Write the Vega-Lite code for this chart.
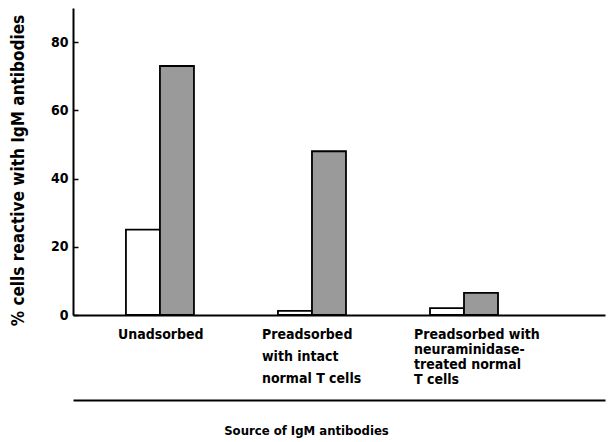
{
  "$schema": "https://vega.github.io/schema/vega-lite/v6.json",
  "width": 532,
  "height": 307,
  "autosize": {"type": "none"},
  "padding": {"left": 73, "top": 8, "right": 5, "bottom": 127},
  "background": "white",
  "config": {
    "view": {"stroke": null},
    "font": "DejaVu Sans Condensed, DejaVu Sans",
    "axis": {"grid": false, "domainColor": "black", "tickColor": "black", "labelColor": "black", "titleColor": "black", "labelFont": "DejaVu Sans Condensed, DejaVu Sans", "titleFont": "DejaVu Sans Condensed, DejaVu Sans"}
  },
  "data": {
    "values": [
      {"group": "Unadsorbed", "series": "Series 1", "value": 25},
      {"group": "Unadsorbed", "series": "Series 2", "value": 73},
      {"group": "Preadsorbed with intact normal T cells", "series": "Series 1", "value": 1.2},
      {"group": "Preadsorbed with intact normal T cells", "series": "Series 2", "value": 48},
      {"group": "Preadsorbed with neuraminidase-treated normal T cells", "series": "Series 1", "value": 2},
      {"group": "Preadsorbed with neuraminidase-treated normal T cells", "series": "Series 2", "value": 6.5}
    ]
  },
  "layer": [
    {
      "mark": {"type": "bar", "stroke": "black", "strokeWidth": 1.8},
      "encoding": {
        "x": {
          "field": "group",
          "type": "nominal",
          "sort": null,
          "scale": {"paddingInner": 0.5526, "paddingOuter": 0.526, "align": 0.331},
          "axis": {
            "title": null,
            "ticks": false,
            "domainWidth": 2,
            "labelAngle": 0,
            "labelAlign": "left",
            "labelBaseline": "top",
            "labelPadding": 12,
            "labelFontSize": 14,
            "labelFontWeight": "bold",
            "labelLimit": 0,
            "labelLineHeight": {"expr": "indexof(datum.value, 'intact') >= 0 ? 22 : 15"},
            "labelOffset": {"condition": {"test": "datum.value == 'Unadsorbed'", "value": -42}, "value": -50},
            "labelExpr": "datum.value == 'Unadsorbed' ? 'Unadsorbed' : (indexof(datum.value, 'intact') >= 0 ? ['Preadsorbed', 'with intact', 'normal T cells'] : ['Preadsorbed with', 'neuraminidase-', 'treated normal', 'T cells'])"
          }
        },
        "xOffset": {"field": "series", "type": "nominal", "scale": {"paddingInner": 0, "paddingOuter": 0}},
        "y": {
          "field": "value",
          "type": "quantitative",
          "scale": {"domain": [0, 90], "nice": false},
          "axis": {
            "title": "% cells reactive with IgM antibodies",
            "values": [0, 20, 40, 60, 80],
            "domainWidth": 2,
            "tickSize": -5,
            "tickWidth": 1.5,
            "labelPadding": 10,
            "labelFontSize": 14,
            "labelFontWeight": "bold",
            "titleFontSize": 17,
            "titleFontWeight": "bold",
            "titleX": -46,
            "titleY": 162,
            "titleAngle": -90,
            "titleAlign": "center",
            "titleBaseline": "bottom"
          }
        },
        "fill": {
          "field": "series",
          "type": "nominal",
          "scale": {"domain": ["Series 1", "Series 2"], "range": ["white", "#9a9a9a"]},
          "legend": null
        }
      }
    },
    {
      "mark": {"type": "tick", "opacity": 0},
      "encoding": {
        "x": {
          "field": "group",
          "type": "nominal",
          "sort": null,
          "scale": {"paddingInner": 0.5526, "paddingOuter": 0.526, "align": 0.331},
          "axis": {
            "orient": "bottom",
            "offset": 85,
            "labels": false,
            "ticks": false,
            "domainWidth": 2,
            "title": "Source of IgM antibodies",
            "titleFontSize": 13,
            "titleFontWeight": "bold",
            "titleX": 233,
            "titleY": 24,
            "titleAlign": "center",
            "titleBaseline": "top"
          }
        }
      }
    }
  ],
  "resolve": {"scale": {"x": "independent"}, "axis": {"x": "independent"}}
}
